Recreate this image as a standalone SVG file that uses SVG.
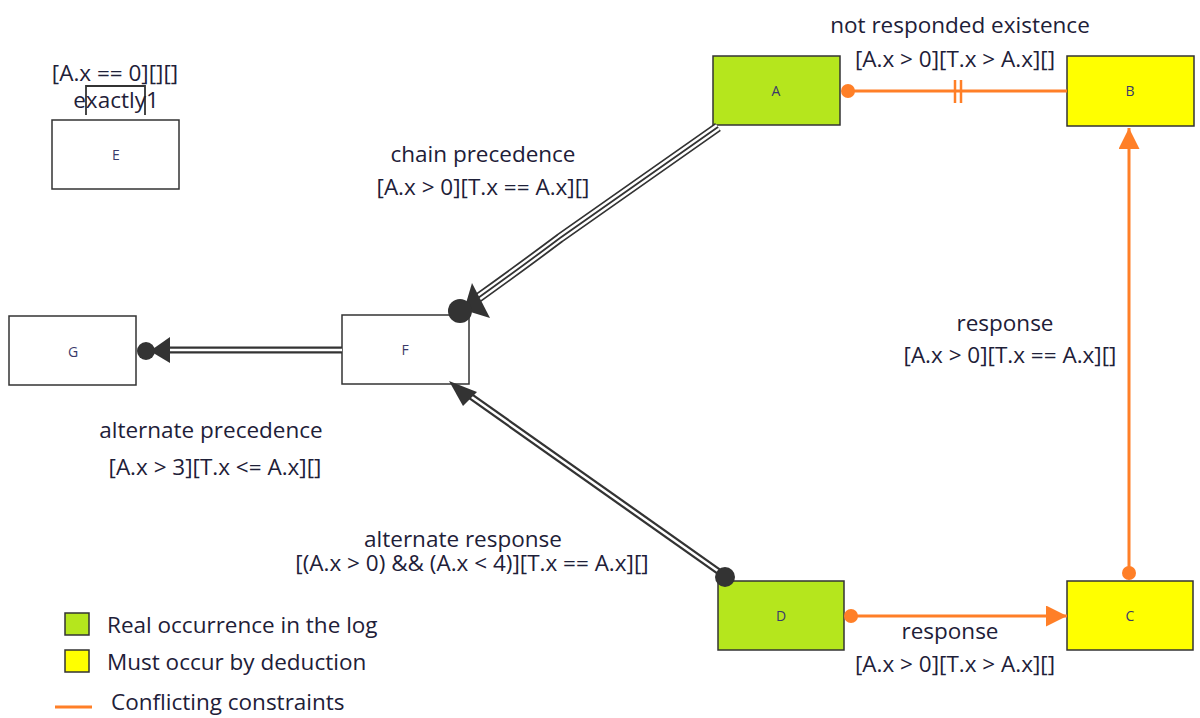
<svg xmlns="http://www.w3.org/2000/svg" width="1200" height="718" viewBox="0 0 1200 718">
<style>
.box{stroke:#333;stroke-width:1.5}
.white{fill:#fff}
.green{fill:#b5e61d}
.yellow{fill:#ffff00}
.nl{font-family:"Open Sans","Liberation Sans",sans-serif;font-size:14px;fill:#3a3a6a;text-anchor:middle}
.lb{font-family:"Open Sans","Liberation Sans",sans-serif;font-size:22.5px;fill:#1e2038;text-anchor:middle}
.lg{font-family:"Open Sans","Liberation Sans",sans-serif;font-size:22.5px;fill:#1e2038}
.or{stroke:#ff7f27;stroke-width:3;fill:none}
</style>
<defs>
<marker id="oarrow" viewBox="0 0 10 10" refX="10" refY="5" markerWidth="7" markerHeight="7" orient="auto" markerUnits="strokeWidth"><path d="M0,0 L10,5 L0,10 Z" fill="#ff7f27"/></marker>
</defs>
<rect x="0" y="0" width="1200" height="718" fill="#fff"/>
<g id="E">
  <rect class="box white" x="52" y="120" width="127" height="69"/>
  <text class="nl" x="116" y="160">E</text>
</g>
<g id="A">
  <rect class="box green" x="713" y="56" width="127" height="69"/>
  <text class="nl" x="776" y="96">A</text>
</g>
<g id="B">
  <rect class="box yellow" x="1067" y="56" width="127" height="70"/>
  <text class="nl" x="1130" y="96">B</text>
</g>
<g id="F">
  <rect class="box white" x="342" y="315" width="127" height="69"/>
  <text class="nl" x="405" y="355">F</text>
</g>
<g id="G">
  <rect class="box white" x="9" y="316" width="127" height="69"/>
  <text class="nl" x="73" y="357">G</text>
</g>
<g id="D">
  <rect class="box green" x="718" y="581" width="126" height="69"/>
  <text class="nl" x="781" y="621">D</text>
</g>
<g id="C">
  <rect class="box yellow" x="1067" y="581" width="126" height="69"/>
  <text class="nl" x="1130" y="621">C</text>
</g>
<g id="connectors">
  <!-- A -> B not responded existence -->
  <line class="or" x1="848" y1="91" x2="1067" y2="91"/>
  <circle cx="848" cy="91" r="7" fill="#ff7f27"/>
  <line x1="955" y1="80" x2="955" y2="103" stroke="#ff7f27" stroke-width="2.5"/>
  <line x1="961" y1="80" x2="961" y2="103" stroke="#ff7f27" stroke-width="2.5"/>
  <!-- C -> B response -->
  <line class="or" x1="1129" y1="572" x2="1129" y2="128" marker-end="url(#oarrow)"/>
  <circle cx="1129" cy="573" r="7" fill="#ff7f27"/>
  <!-- D -> C response -->
  <line class="or" x1="851" y1="616" x2="1067" y2="616" marker-end="url(#oarrow)"/>
  <circle cx="851" cy="616" r="7" fill="#ff7f27"/>
  <!-- A -> F chain precedence (triple line) -->
  <g fill="none">
    <path d="M718,127 L560,238 Q520,268 478,298" stroke="#333" stroke-width="10"/>
    <path d="M718,127 L560,238 Q520,268 478,298" stroke="#fff" stroke-width="6.5"/>
    <path d="M718,127 L560,238 Q520,268 478,298" stroke="#333" stroke-width="1.8"/>
  </g>
  <path d="M472,283 L490,318 L464,310 Z" fill="#333"/>
  <circle cx="460" cy="311" r="12" fill="#333"/>
  <!-- F -> G alternate precedence (double line) -->
  <g fill="none">
    <line x1="342" y1="350" x2="165" y2="350" stroke="#333" stroke-width="7"/>
    <line x1="342" y1="350" x2="165" y2="350" stroke="#fff" stroke-width="2.5"/>
  </g>
  <path d="M150,351 L170,337 L170,363 Z" fill="#333"/>
  <circle cx="146" cy="351" r="9" fill="#333"/>
  <!-- D -> F alternate response (double line) -->
  <g fill="none">
    <line x1="725" y1="576" x2="466" y2="393" stroke="#333" stroke-width="7"/>
    <line x1="725" y1="576" x2="466" y2="393" stroke="#fff" stroke-width="2.5"/>
  </g>
  <path d="M449,381 L477,392 L463,406 Z" fill="#333"/>
  <circle cx="725" cy="577" r="10" fill="#333"/>
  <!-- E exactly1 bracket -->
  <path d="M86,115 L86,86 L145,86 L145,115" fill="none" stroke="#333" stroke-width="1.8"/>
</g>
<g id="labels">
  <text class="lb" x="115" y="81">[A.x == 0][][]</text>
  <text class="lb" x="116" y="108">exactly1</text>
  <text class="lb" x="960" y="33">not responded existence</text>
  <text class="lb" x="955" y="67">[A.x &gt; 0][T.x &gt; A.x][]</text>
  <text class="lb" x="483" y="162">chain precedence</text>
  <text class="lb" x="483" y="195">[A.x &gt; 0][T.x == A.x][]</text>
  <text class="lb" x="1005" y="331">response</text>
  <text class="lb" x="1010" y="363">[A.x &gt; 0][T.x == A.x][]</text>
  <text class="lb" x="211" y="438">alternate precedence</text>
  <text class="lb" x="215" y="475">[A.x &gt; 3][T.x &lt;= A.x][]</text>
  <text class="lb" x="463" y="547">alternate response</text>
  <text class="lb" x="472" y="571">[(A.x &gt; 0) &amp;&amp; (A.x &lt; 4)][T.x == A.x][]</text>
  <text class="lb" x="950" y="639">response</text>
  <text class="lb" x="955" y="672">[A.x &gt; 0][T.x &gt; A.x][]</text>
</g>
<g id="legend">
  <rect class="box green" x="65" y="613" width="24" height="22"/>
  <text class="lg" x="107" y="633">Real occurrence in the log</text>
  <rect class="box yellow" x="65" y="650" width="24" height="22"/>
  <text class="lg" x="107" y="670">Must occur by deduction</text>
  <line x1="55" y1="707" x2="92" y2="707" stroke="#ff7f27" stroke-width="3"/>
  <text class="lg" x="111" y="710">Conflicting constraints</text>
</g>
</svg>
